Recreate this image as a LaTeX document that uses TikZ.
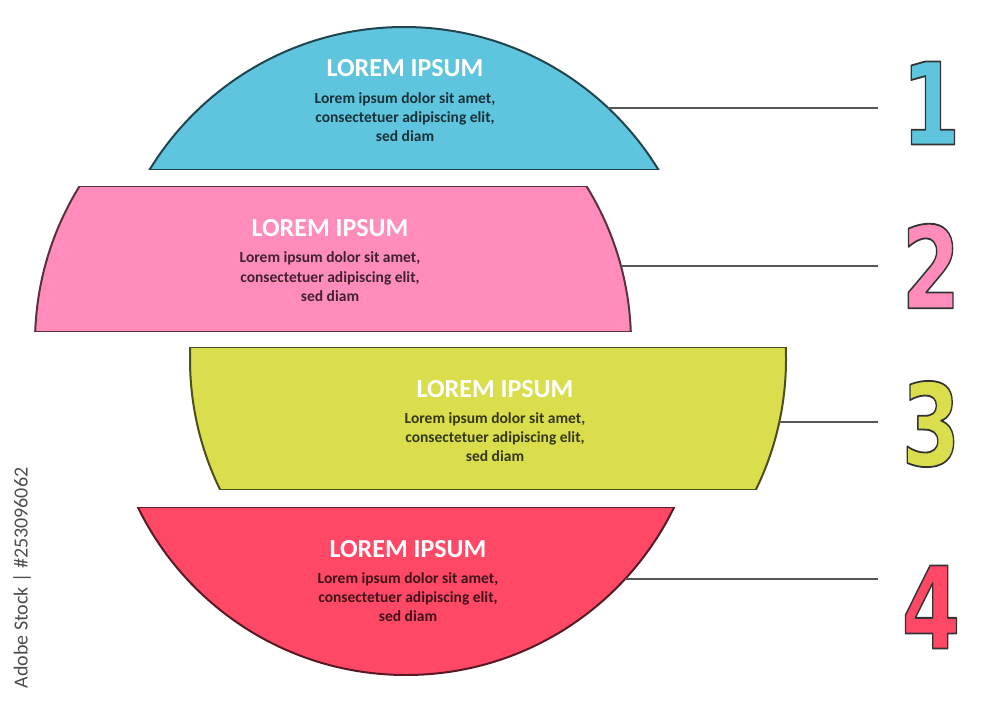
\documentclass[tikz,border=0pt]{standalone}
\usepackage{fontspec}
\setmainfont{Carlito}
\newfontfamily\digitfont{DejaVu Sans}
\usepackage{xcolor}
\usetikzlibrary{positioning}
\definecolor{sliceblue}{RGB}{95,197,222}
\definecolor{slicepink}{RGB}{255,140,186}
\definecolor{slicelime}{RGB}{218,222,76}
\definecolor{slicered}{RGB}{255,72,102}
\definecolor{linkgray}{RGB}{85,85,85}
% filled digit with a thin dark rim (text render mode 2)
\newcommand{\rimdigit}[1]{\special{pdf:literal direct 2 Tr 1.8 w 1 j 0.2 0.2 0.2 RG}#1\special{pdf:literal direct 0 Tr}}

\begin{document}
\begin{tikzpicture}[x=1pt, y=-1pt,
    title/.style={font=\bfseries\fontsize{26}{26}\selectfont, text=white},
    body/.style={font=\bfseries\fontsize{15.5}{19.4}\selectfont, align=center},
    num/.style={font=\digitfont\bfseries\fontsize{114}{114}\selectfont, xscale=0.74, inner sep=0pt},
    link/.style={draw=linkgray, line width=1.1pt}]
  \useasboundingbox (0,0) rectangle (1000,706);
  % centre x / centre y / top / bottom / colour / link y / text x / number y / index
  \foreach \cx/\cy/\ytop/\ybot/\col/\ly/\tx/\ny/\n in {
      404/325/27/169/sliceblue/108/405/103/1,
      333/343/186.5/331/slicepink/266/330/266/2,
      488/359/347/489/slicelime/422/495/424/3,
      406/377/507/675/slicered/579/408/607/4}{
    \begin{scope}
      \clip (\cx,\cy) circle (298);
      \filldraw[fill=\col, draw=\col!35!black, line width=1pt] (0,\ytop) rectangle (1000,\ybot);
    \end{scope}
    \begin{scope}
      \clip (0,\ytop) rectangle (1000,\ybot);
      \draw[\col!35!black, line width=2pt] (\cx,\cy) circle (298);
    \end{scope}
    \node[title, anchor=base] (title\n) at (\tx,\ytop+50) {LOREM IPSUM};
    \node[body, text=\col!25!black, below=8pt of title\n] (body\n) {Lorem ipsum dolor sit amet,\\consectetuer adipiscing elit,\\sed diam};
    \coordinate (edge\n) at ({\cx+298*cos(asin((\cy-\ly)/298))}, \ly);
    \coordinate (end\n) at (878,\ly);
    \node[num, text=\col] (num\n) at (931,\ny) {\rimdigit{\n}};
    \draw[link] (edge\n) -- (end\n);
  }
  \node[rotate=90, text=black!70, font=\fontsize{20}{20}\selectfont] (stockid) at (22,578) {Adobe Stock | \#253096062};
\end{tikzpicture}
\end{document}
